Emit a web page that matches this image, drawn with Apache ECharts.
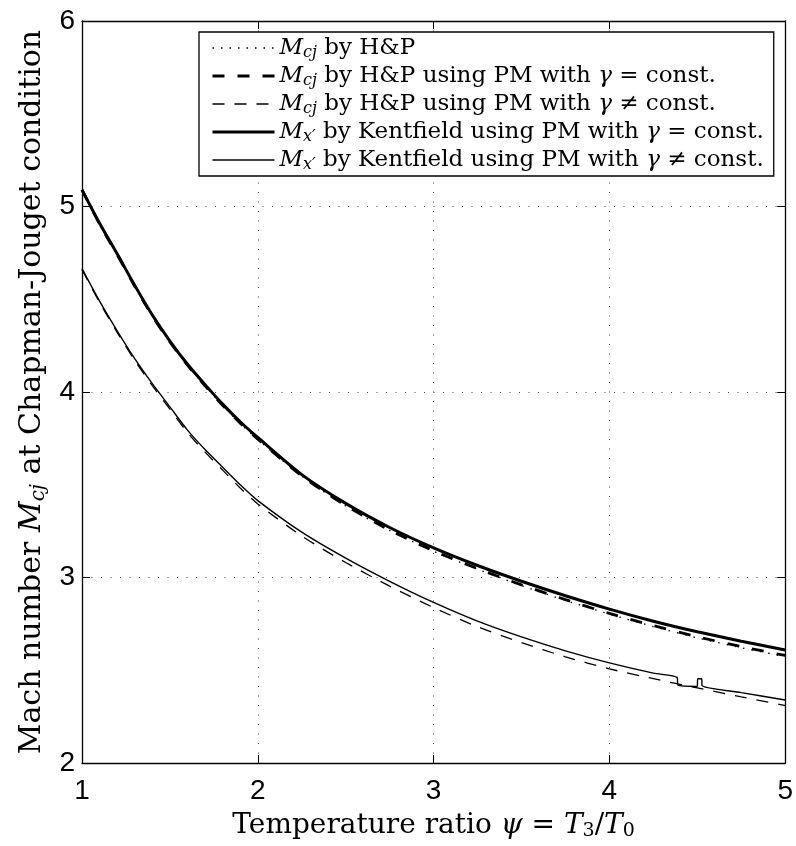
<!DOCTYPE html>
<html>
<head>
<meta charset="utf-8">
<script src="https://cdn.jsdelivr.net/npm/echarts@6/dist/echarts.min.js"></script>
<style>
html,body{margin:0;padding:0;background:#fff;}
#chart{width:796px;height:846px;}
</style>
</head>
<body>
<div id="chart"></div>
<script>
// ---- data ----
var xTicks = [1, 2, 3, 4, 5];
var yTicks = [2, 3, 4, 5, 6];

var psi = [1.0, 1.1, 1.2, 1.3, 1.4, 1.5, 1.6, 1.7, 1.8, 1.9, 2.0, 2.25, 2.5, 2.75, 3.0, 3.25, 3.5, 3.75, 4.0, 4.25, 4.5, 4.75, 5.0];

// M_cj by H&P (dotted)
var mcjHP = [5.09, 4.905, 4.74, 4.57, 4.41, 4.27, 4.145, 4.033, 3.927, 3.83, 3.744, 3.547, 3.386, 3.254, 3.142, 3.045, 2.957, 2.877, 2.803, 2.736, 2.675, 2.622, 2.574];
// M_cj by H&P using PM with gamma = const (thick dashed)
var mcjPMconst = [5.09, 4.905, 4.74, 4.57, 4.41, 4.27, 4.145, 4.034, 3.928, 3.832, 3.746, 3.548, 3.388, 3.256, 3.144, 3.048, 2.961, 2.881, 2.807, 2.741, 2.681, 2.628, 2.58];
// M_cj by H&P using PM with gamma != const (thin dashed)
var mcjPMvar = [4.66, 4.483, 4.322, 4.17, 4.034, 3.908, 3.782, 3.676, 3.579, 3.483, 3.397, 3.224, 3.081, 2.954, 2.838, 2.735, 2.649, 2.573, 2.508, 2.455, 2.405, 2.357, 2.31];
// M_x' by Kentfield using PM with gamma = const (thick solid)
var mxKconst = [5.09, 4.91, 4.745, 4.575, 4.415, 4.275, 4.15, 4.04, 3.935, 3.84, 3.755, 3.555, 3.40, 3.27, 3.16, 3.065, 2.98, 2.902, 2.83, 2.765, 2.708, 2.657, 2.61];
// M_x' by Kentfield using PM with gamma != const (thin solid, has a small glitch near psi = 4.4-4.5)
var psiKvar = [1.0, 1.1, 1.2, 1.3, 1.4, 1.5, 1.6, 1.7, 1.8, 1.9, 2.0, 2.25, 2.5, 2.75, 3.0, 3.25, 3.5, 3.75, 4.0, 4.25, 4.385, 4.39, 4.5, 4.502, 4.525, 4.527, 4.75, 5.0];
var mxKvar = [4.665, 4.49, 4.33, 4.18, 4.045, 3.92, 3.795, 3.69, 3.595, 3.50, 3.415, 3.245, 3.105, 2.98, 2.866, 2.765, 2.68, 2.605, 2.54, 2.485, 2.462, 2.42, 2.413, 2.455, 2.455, 2.418, 2.38, 2.34];

var names = ['hp', 'hpConst', 'hpVar', 'kConst', 'kVar'];
var labels = {
  hp: '{i|M}{s|cj} by H&P',
  hpConst: '{i|M}{s|cj} by H&P using PM with {i|γ} = const.',
  hpVar: '{i|M}{s|cj} by H&P using PM with {i|γ} ≠ const.',
  kConst: '{i|M}{s|x′} by Kentfield using PM with {i|γ} = const.',
  kVar: '{i|M}{s|x′} by Kentfield using PM with {i|γ} ≠ const.'
};

function pairs(xs, ys) { return xs.map(function (x, k) { return [x, ys[k]]; }); }

var serif = 'DejaVu Serif';
var sans = 'Liberation Sans';

var chart = echarts.init(document.getElementById('chart'), null, {renderer: 'canvas'});

var gridLine = {show: true, lineStyle: {color: '#444', width: 1, type: [1, 8.5]}};
var tickIn = {show: true, inside: true, length: 8, lineStyle: {color: '#000', width: 1}};
var axisLn = {show: true, onZero: false, lineStyle: {color: '#000', width: 1.3}};

var styles = {
  hp: {width: 1.3, type: [1.5, 7]},
  hpConst: {width: 2.8, type: [12, 13]},
  hpVar: {width: 1.3, type: [12, 10]},
  kConst: {width: 3, type: 'solid'},
  kVar: {width: 1.4, type: 'solid'}
};

function mkSeries(name, data, z) {
  return {
    name: name, type: 'line', data: data, symbol: 'none', z: z,
    smooth: 0.25, animation: false,
    itemStyle: {color: '#000'},
    lineStyle: {color: '#000', width: styles[name].width, type: styles[name].type}
  };
}

var option = {
  backgroundColor: '#fff',
  animation: false,
  grid: {left: 82, right: 10, top: 21, bottom: 81, containLabel: false},
  legend: {
    data: names.map(function (n) {
      return {name: n, lineStyle: {color: '#000', width: styles[n].width, type: styles[n].type}};
    }),
    orient: 'vertical',
    left: 199, top: 32,
    padding: [2, 10, 2, 12],
    itemGap: 0,
    itemWidth: 62, itemHeight: 14,
    itemStyle: {opacity: 0},
    backgroundColor: '#fff',
    borderColor: '#000', borderWidth: 1.3, borderRadius: 0,
    selectedMode: false,
    textStyle: {
      fontFamily: serif, fontSize: 23, color: '#000', lineHeight: 28,
      rich: {
        i: {fontFamily: serif, fontStyle: 'italic', fontSize: 23, lineHeight: 28, color: '#000'},
        s: {fontFamily: serif, fontStyle: 'italic', fontSize: 16, lineHeight: 18, padding: [10, 0, 0, 0], color: '#000'}
      }
    },
    formatter: function (n) { return labels[n]; }
  },
  xAxis: [{
    type: 'value', min: xTicks[0], max: xTicks[xTicks.length - 1], interval: 1,
    position: 'bottom',
    axisLine: axisLn, axisTick: tickIn, splitLine: gridLine,
    axisLabel: {fontFamily: sans, fontSize: 28, color: '#000', margin: 14},
    name: 'Temperature ratio {i|ψ} = {i|T}{s|3}/{i|T}{s|0}',
    nameLocation: 'middle', nameGap: 27,
    nameTextStyle: {
      fontFamily: serif, fontSize: 28, color: '#000',
      rich: {
        i: {fontFamily: serif, fontStyle: 'italic', fontSize: 28, color: '#000'},
        s: {fontFamily: serif, fontSize: 19, lineHeight: 20, padding: [12, 0, 0, 0], color: '#000'}
      }
    }
  }, {
    type: 'value', min: xTicks[0], max: xTicks[xTicks.length - 1], interval: 1,
    position: 'top',
    axisLine: axisLn, axisTick: tickIn, splitLine: {show: false},
    axisLabel: {show: false}
  }],
  yAxis: [{
    type: 'value', min: yTicks[0], max: yTicks[yTicks.length - 1], interval: 1,
    position: 'left',
    axisLine: axisLn, axisTick: tickIn, splitLine: gridLine,
    axisLabel: {fontFamily: sans, fontSize: 28, color: '#000', margin: 7},
    name: 'Mach number {i|M}{s|cj} at Chapman-Jouget condition',
    nameLocation: 'middle', nameGap: 26, nameRotate: 90,
    nameTextStyle: {
      fontFamily: serif, fontSize: 30, color: '#000',
      rich: {
        i: {fontFamily: serif, fontStyle: 'italic', fontSize: 30, color: '#000'},
        s: {fontFamily: serif, fontStyle: 'italic', fontSize: 20, lineHeight: 22, padding: [12, 0, 0, 0], color: '#000'}
      }
    }
  }, {
    type: 'value', min: yTicks[0], max: yTicks[yTicks.length - 1], interval: 1,
    position: 'right',
    axisLine: axisLn, axisTick: tickIn, splitLine: {show: false},
    axisLabel: {show: false}
  }],
  series: [
    mkSeries('hp', pairs(psi, mcjHP), 3),
    mkSeries('hpConst', pairs(psi, mcjPMconst), 4),
    mkSeries('hpVar', pairs(psi, mcjPMvar), 3),
    mkSeries('kConst', pairs(psi, mxKconst), 5),
    mkSeries('kVar', pairs(psiKvar, mxKvar), 5)
  ]
};
chart.setOption(option);
</script>
</body>
</html>
